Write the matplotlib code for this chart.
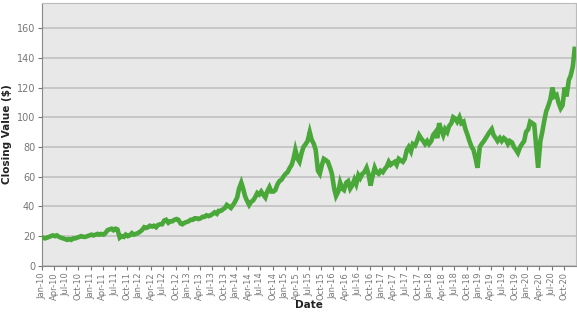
import numpy as np
import pandas as pd
import matplotlib
matplotlib.use("Agg")
import matplotlib.pyplot as plt
import matplotlib.dates as mdates

# semi-monthly closing values, one list per year
y2010 = [19, 18.5, 19, 19.5, 20, 20.5, 20, 20.5, 19.5, 19, 18.5, 18,
         17.5, 18, 17.5, 18.5, 18.5, 19, 19.5, 20, 19.5, 19.5, 20, 20.5]
y2011 = [21, 20.5, 21, 21.5, 21, 21.5, 21, 22, 24, 24.5, 25, 24,
         25, 24.5, 19, 20, 19.5, 21, 20, 20.5, 22, 21, 21.5, 22]
y2012 = [23, 24, 26, 25.5, 26, 27, 26.5, 27, 26, 27.5, 28, 28,
         30.5, 31, 29, 30, 30, 31, 31.5, 31, 28.5, 28, 29, 29.5]
y2013 = [30, 31, 31, 32, 32, 31.5, 32, 33, 33, 34, 33.5, 34,
         35, 36, 35, 37, 37, 38, 39, 41, 40, 39, 41, 43]
y2014 = [46, 52, 56, 52, 47, 44, 41, 43, 44, 46, 49, 48,
         50, 48, 46, 50, 53, 50, 50, 51, 55, 57, 58, 60]
y2015 = [62, 63, 66, 68, 72, 78, 72, 70, 76, 80, 82, 84,
         90, 85, 82, 78, 64, 62, 68, 72, 71, 70, 66, 62]
y2016 = [52, 47, 50, 56, 52, 51, 56, 57, 52, 54, 58, 55,
         61, 59, 62, 63, 66, 62, 54, 60, 66, 63, 62, 64]
y2017 = [63, 65, 67, 70, 68, 69, 70, 68, 72, 71, 70, 72,
         78, 80, 77, 82, 81, 84, 88, 86, 84, 82, 84, 82]
y2018 = [84, 88, 90, 86, 96, 92, 88, 92, 90, 94, 96, 100,
         99, 97, 100, 96, 97, 92, 88, 84, 80, 78, 72, 66]
y2019 = [80, 82, 84, 86, 88, 90, 92, 88, 86, 84, 86, 84,
         86, 85, 82, 84, 83, 80, 78, 76, 80, 82, 84, 90]
y2020 = [92, 97, 96, 95, 80, 66, 84, 90, 98, 104, 108, 112,
         120, 114, 115, 110, 106, 108, 120, 114, 125, 128, 134, 146]

values = (y2010 + y2011 + y2012 + y2013 + y2014 + y2015 + y2016
          + y2017 + y2018 + y2019 + y2020)
dates = pd.date_range("2010-01-01", periods=len(values), freq="SMS") + pd.Timedelta(days=7)
dates = dates.insert(0, pd.Timestamp("2010-01-01"))
values = [values[0]] + values

fig = plt.figure(figsize=(5.77, 3.15), dpi=100)
ax = fig.add_axes([0.073, 0.156, 0.925, 0.835])
ax.set_facecolor("#e8e8e8")

ax.plot(dates, values, color="#4aa83a", lw=3.3, solid_joinstyle="miter", zorder=3)

ax.set_ylim(0, 177)
ax.set_yticks(np.arange(0, 161, 20))
ax.set_xlim(pd.Timestamp("2010-01-01"), pd.Timestamp("2020-12-31"))
ax.xaxis.set_major_locator(mdates.MonthLocator(bymonth=[1, 4, 7, 10]))
ax.xaxis.set_major_formatter(mdates.DateFormatter("%b-%y"))
plt.setp(ax.get_xticklabels(), rotation=90)

ax.grid(axis="y", color="#c4c4c4", lw=1.3)
ax.set_axisbelow(True)
ax.tick_params(axis="y", labelsize=7, colors="#777777", length=3, width=0.8, pad=2)
ax.tick_params(axis="x", labelsize=6, colors="#777777", length=3, width=0.8, pad=1.5)

for s in ["left", "bottom"]:
    ax.spines[s].set_color("#888888")
for s in ["top", "right"]:
    ax.spines[s].set_color("#bbbbbb")

ax.set_xlabel("Date", fontsize=7.5, fontweight="bold", color="#222222", va="center")
ax.set_ylabel("Closing Value ($)", fontsize=7.5, fontweight="bold", color="#222222")
ax.xaxis.set_label_coords(0.5, -0.148)
ax.yaxis.set_label_coords(-0.057, 0.5)

fig.savefig("out.png", dpi=100)
